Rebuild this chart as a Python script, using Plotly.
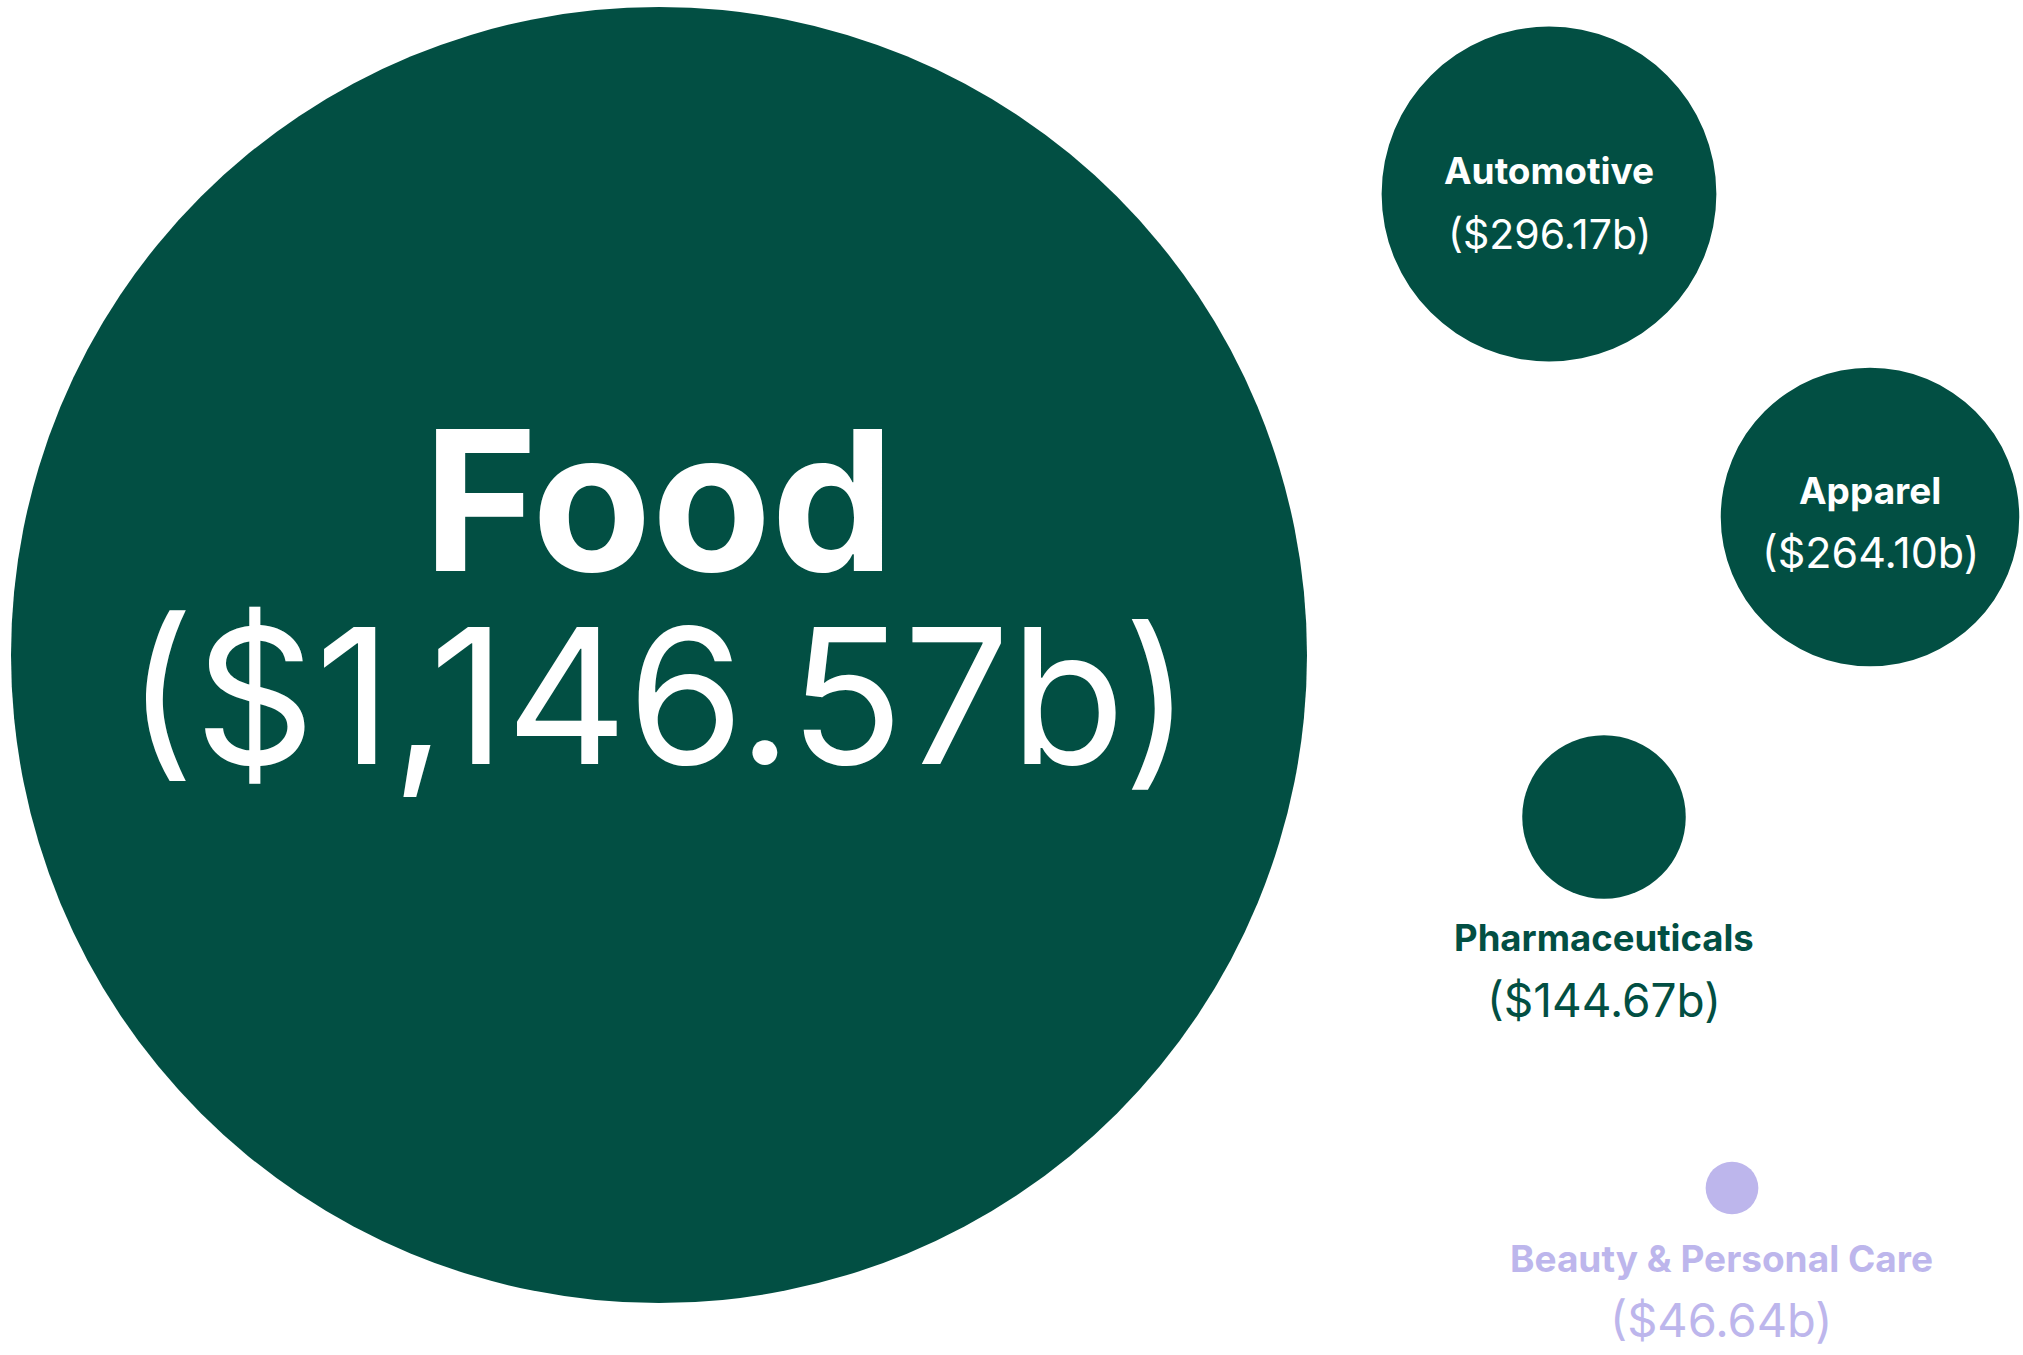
import plotly.graph_objects as go

# Retail category market sizes, in billions of dollars
categories = ["Food", "Automotive", "Apparel", "Pharmaceuticals", "Beauty & Personal Care"]
values = [1146.57, 296.17, 264.10, 144.67, 46.64]

# Layout of the bubbles on the canvas (pixel space)
centers_x = [659, 1549, 1870, 1604, 1732]
centers_y = [655, 194, 517, 817, 1188]
px_per_billion = 648 / 1146.57  # bubble radius is proportional to value

GREEN = "#024F43"
LAVENDER = "#BDB6EC"
bubble_colors = [GREEN, GREEN, GREEN, GREEN, LAVENDER]

# Label placement: (x, name_y, value_y, name size, value size, colour)
label_style = [
    (659, 499, 692, 195, 188, "white"),
    (1549, 170, 234, 37, 41, "white"),
    (1870, 490, 552, 37, 43, "white"),
    (1604, 938, 1000, 36.5, 46, GREEN),
    (1721, 1258, 1319, 37, 47, LAVENDER),
]

W, H = 2023, 1355
fig = go.Figure()

shapes = []
annotations = []
for cat, val, cx, cy, col, st in zip(categories, values, centers_x, centers_y,
                                     bubble_colors, label_style):
    r = val * px_per_billion
    shapes.append(dict(type="circle", xref="x", yref="y",
                       x0=cx - r, x1=cx + r, y0=cy - r, y1=cy + r,
                       fillcolor=col, line=dict(width=0), layer="below"))
    lx, ny, vy, nsize, vsize, tcol = st
    value_text = f"(${val:,.2f}b)"
    if nsize > 100:
        # headline bubble: name and value set as one two-line block,
        # line pitch (1.3 x base size) equals the gap between the two lines
        base = (vy - ny) / 1.3
        text = (f'<span style="font-size:{nsize}px"><b>{cat}</b></span><br>'
                f'<span style="font-size:{vsize}px">{value_text}</span>')
        annotations.append(dict(x=lx, y=(ny + vy) / 2, xref="x", yref="y",
                                text=text, showarrow=False,
                                xanchor="center", yanchor="middle",
                                font=dict(family="Inter", size=base, color=tcol)))
        continue
    annotations.append(dict(x=lx, y=ny, xref="x", yref="y", text=cat,
                            showarrow=False, xanchor="center", yanchor="middle",
                            font=dict(family="Inter", size=nsize, color=tcol,
                                      weight=700)))
    annotations.append(dict(x=lx, y=vy, xref="x", yref="y", text=value_text,
                            showarrow=False, xanchor="center", yanchor="middle",
                            font=dict(family="Inter", size=vsize, color=tcol,
                                      weight=400)))

# invisible trace so the axes are active
fig.add_trace(go.Scatter(x=centers_x, y=centers_y, mode="markers",
                         marker=dict(size=0, opacity=0), hoverinfo="skip",
                         showlegend=False))

fig.update_layout(
    width=W, height=H,
    margin=dict(l=0, r=0, t=0, b=0),
    paper_bgcolor="white", plot_bgcolor="white",
    shapes=shapes, annotations=annotations,
    xaxis=dict(range=[0, W], visible=False, fixedrange=True),
    yaxis=dict(range=[H, 0], visible=False, fixedrange=True),
    showlegend=False,
)

fig.write_html("out.html", config={"displayModeBar": False})
